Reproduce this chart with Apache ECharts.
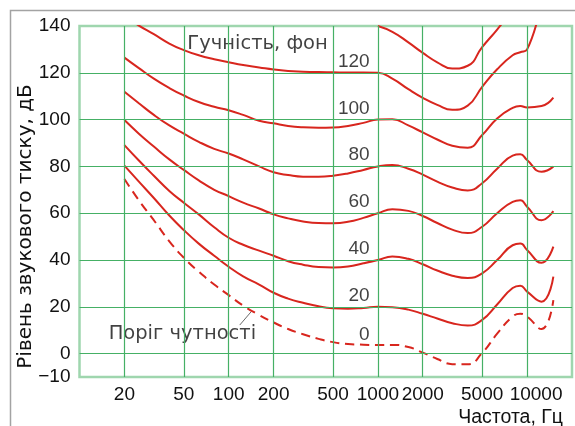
<!DOCTYPE html>
<html>
<head>
<meta charset="utf-8">
<script src="https://cdn.jsdelivr.net/npm/echarts@6/dist/echarts.min.js"></script>
<style>
html,body{margin:0;padding:0;background:#fff}
#main{width:575px;height:426px}
</style>
</head>
<body>
<div id="main"></div>
<script>
// frequencies, Hz
var freqs = [20, 25, 31.5, 40, 50, 63, 80, 100, 125, 160, 200, 250, 315, 400, 500, 630, 800,
  1000, 1250, 1600, 2000, 2500, 3150, 4000, 5000, 6300, 8000, 9000, 10000, 12500, 15000];

// sound pressure level, dB (null = not drawn)
var phon0 = [74.6, 65.5, 57, 48, 41, 35, 29.5, 25, 20.5, 16.5, 13.3, 10.5, 8.3, 6.3, 4.9, 4.1, 3.8,
  3.7, 3.7, 2.8, 0.4, -2.3, -4.5, -4.6, 0.3, 8.5, 15.8, 17, 15.8, 10.5, 22.9];
var phon20 = [80.3, 73.5, 66.5, 59, 52.8, 47, 41.8, 37.1, 33, 29.5, 26, 23.5, 21.7, 20.2, 19.4, 19.2, 19.5,
  20, 19.8, 18.8, 17, 15, 13, 12, 14.4, 21, 28, 29, 26.5, 22.2, 32.9];
var phon40 = [89.1, 82.5, 76, 69.5, 64.5, 59.5, 54, 49.5, 46.5, 44, 41.8, 39.5, 38, 37, 36.8, 37.2, 38.6,
  40, 41.5, 40.5, 38.2, 35.5, 33.3, 32.3, 34.3, 40, 46.3, 47, 44.3, 38.8, 45.7];
var phon60 = [99.8, 94, 88.5, 83, 78.5, 74, 70, 67.3, 64.5, 62, 59.5, 57.8, 56.5, 55.8, 55.7, 56.3, 58,
  60, 61.7, 61, 58.8, 55.8, 53, 51.5, 54.2, 60, 64.8, 65.5, 62.8, 57, 60.9];
var phon80 = [111.9, 107, 102, 97.5, 94, 90.5, 87.5, 85.5, 83, 80, 77.5, 76.3, 75.6, 75.6, 76, 77, 78.5,
  80, 80.6, 79, 76.5, 73.5, 71, 69.7, 72.8, 79, 84.6, 85.2, 82.7, 77.7, 79.9];
var phon100 = [126.5, 122, 117.5, 113.5, 110.3, 107.5, 105.5, 104, 102, 99.5, 98.4, 97.3, 96.7, 96.5, 96.6, 97.3, 98.6,
  100, 100.1, 97.5, 94.5, 91.5, 88.8, 88, 93.4, 100.5, 105, 105.8, 105.2, 105.8, 109.4];
var phon120 = [144.5, 140.2, 136.5, 132.5, 129.7, 127.5, 125.8, 124.5, 123.3, 122.3, 121.4, 120.8, 120.5, 120.3, 120.2, 120.1, 120.1,
  120, 117.5, 113, 109.3, 106.3, 104.2, 106, 114, 121.5, 127.5, 128.8, 130, 150, null];
var phon140 = [null, null, null, null, null, null, null, null, null, null, null, null, null, null, null, null, null,
  140, 137.5, 133, 128.5, 124.5, 121.8, 123, 131, 138.5, 147, null, null, null, null];

var curves = [phon140, phon120, phon100, phon80, phon60, phon40, phon20, phon0];

// axis ticks
var xTicks = [20, 50, 100, 200, 500, 1000, 2000, 5000, 10000];
var yTicks = [-10, 0, 20, 40, 60, 80, 100, 120, 140];
var yGrid = [0, 20, 40, 60, 80, 100, 120];

// curve labels
var labelTexts = ['120', '100', '80', '60', '40', '20', '0'];
var labelLevels = [124.8, 104.7, 84.9, 65, 44.9, 24.8, 8.2];
var labelFreq = 880;

var lg = function (f) { return Math.log10(f); };
var red = '#d8261e';
var green = '#45b065';

var myChart = echarts.init(document.getElementById('main'));

var numStyle = { color: '#111', fontFamily: 'Liberation Sans', fontSize: 19 };
var textStyle = { color: '#111', fontFamily: 'DejaVu Sans', fontSize: 19.5 };

var series = [];
// grid lines
series.push({
  type: 'line',
  data: [],
  silent: true,
  markLine: {
    silent: true,
    symbol: 'none',
    label: { show: false },
    lineStyle: { color: green, width: 1.2, type: 'solid' },
    data: xTicks.map(function (f) { return { xAxis: lg(f) }; })
      .concat(yGrid.map(function (v) { return { yAxis: v }; }))
  }
});

curves.forEach(function (vals, k) {
  var pts = [];
  for (var i = 0; i < freqs.length; i++) {
    if (vals[i] !== null) pts.push([lg(freqs[i]), vals[i]]);
  }
  series.push({
    type: 'line',
    data: pts,
    smooth: 0.5,
    showSymbol: false,
    clip: true,
    silent: true,
    z: 3,
    lineStyle: { color: red, width: 2, type: k === curves.length - 1 ? [9, 6] : 'solid' }
  });
});

// leader line for threshold label
series.push({
  type: 'line',
  data: [[lg(118.6), 12.2], [lg(141), 17.8]],
  showSymbol: false,
  silent: true,
  z: 3,
  lineStyle: { color: '#444', width: 0.8 }
});

// text labels
series.push({
  type: 'scatter',
  symbolSize: 0,
  silent: true,
  z: 4,
  data: labelTexts.map(function (t, i) { return { value: [lg(labelFreq), labelLevels[i]], name: t }; })
    .concat([
      { value: [lg(48.9), 8.4], name: 'Поріг чутності', label: Object.assign({ align: 'center' }, textStyle) },
      { value: [lg(156), 132.3], name: 'Гучність, фон', label: Object.assign({ align: 'center' }, textStyle) }
    ]),
  label: Object.assign({
    show: true,
    position: [0, 0],
    align: 'right',
    verticalAlign: 'middle',
    formatter: '{b}'
  }, numStyle)
});

var option = {
  animation: false,
  backgroundColor: '#fff',
  graphic: [{
    type: 'rect',
    shape: { x: 10.5, y: 10.5, width: 620, height: 480 },
    style: { fill: 'none', stroke: '#a3a3a3', lineWidth: 1.5 },
    silent: true
  }],
  grid: {
    left: 79.5, right: 3, top: 26, bottom: 49,
    outerBoundsMode: 'none',
    containLabel: false,
    show: true,
    borderColor: '#9fd6ae',
    borderWidth: 2.5,
    backgroundColor: 'transparent'
  },
  xAxis: {
    type: 'value',
    min: 1,
    max: lg(20000),
    name: 'Частота, Гц',
    nameLocation: 'end',
    nameGap: -9,
    nameMoveOverlap: false,
    nameTextStyle: { color: '#111', fontFamily: 'Liberation Sans', fontSize: 19.5,
      align: 'right', verticalAlign: 'top', padding: [54, 0, 0, 0] },
    axisLine: { show: false },
    axisTick: { show: false },
    splitLine: { show: false },
    axisLabel: Object.assign({
      customValues: xTicks.map(lg),
      margin: 8,
      hideOverlap: false,
      showMinLabel: true,
      showMaxLabel: true,
      formatter: function (v) {
        var f = Math.round(Math.pow(10, v));
        return f === 10000 ? '{r|' + f + '}' : String(f);
      },
      rich: { r: Object.assign({ padding: [0, 0, 0, 18] }, numStyle) }
    }, numStyle)
  },
  yAxis: {
    type: 'value',
    min: -10,
    max: 140,
    name: 'Рівень звукового тиску, дБ',
    nameLocation: 'middle',
    nameRotate: 90,
    nameGap: 53.5,
    nameMoveOverlap: false,
    nameTextStyle: Object.assign({ verticalAlign: 'middle', padding: [0, 50, 0, 0] }, textStyle, { fontSize: 20 }),
    axisLine: { show: false },
    axisTick: { show: false },
    splitLine: { show: false },
    axisLabel: Object.assign({
      customValues: yTicks,
      margin: 9,
      formatter: function (v) { return v < 0 ? '\u2212' + (-v) : String(v); }
    }, numStyle)
  },
  series: series
};
myChart.setOption(option);
window.addEventListener('resize', function () {
  myChart.resize();
});
</script>
</body>
</html>
